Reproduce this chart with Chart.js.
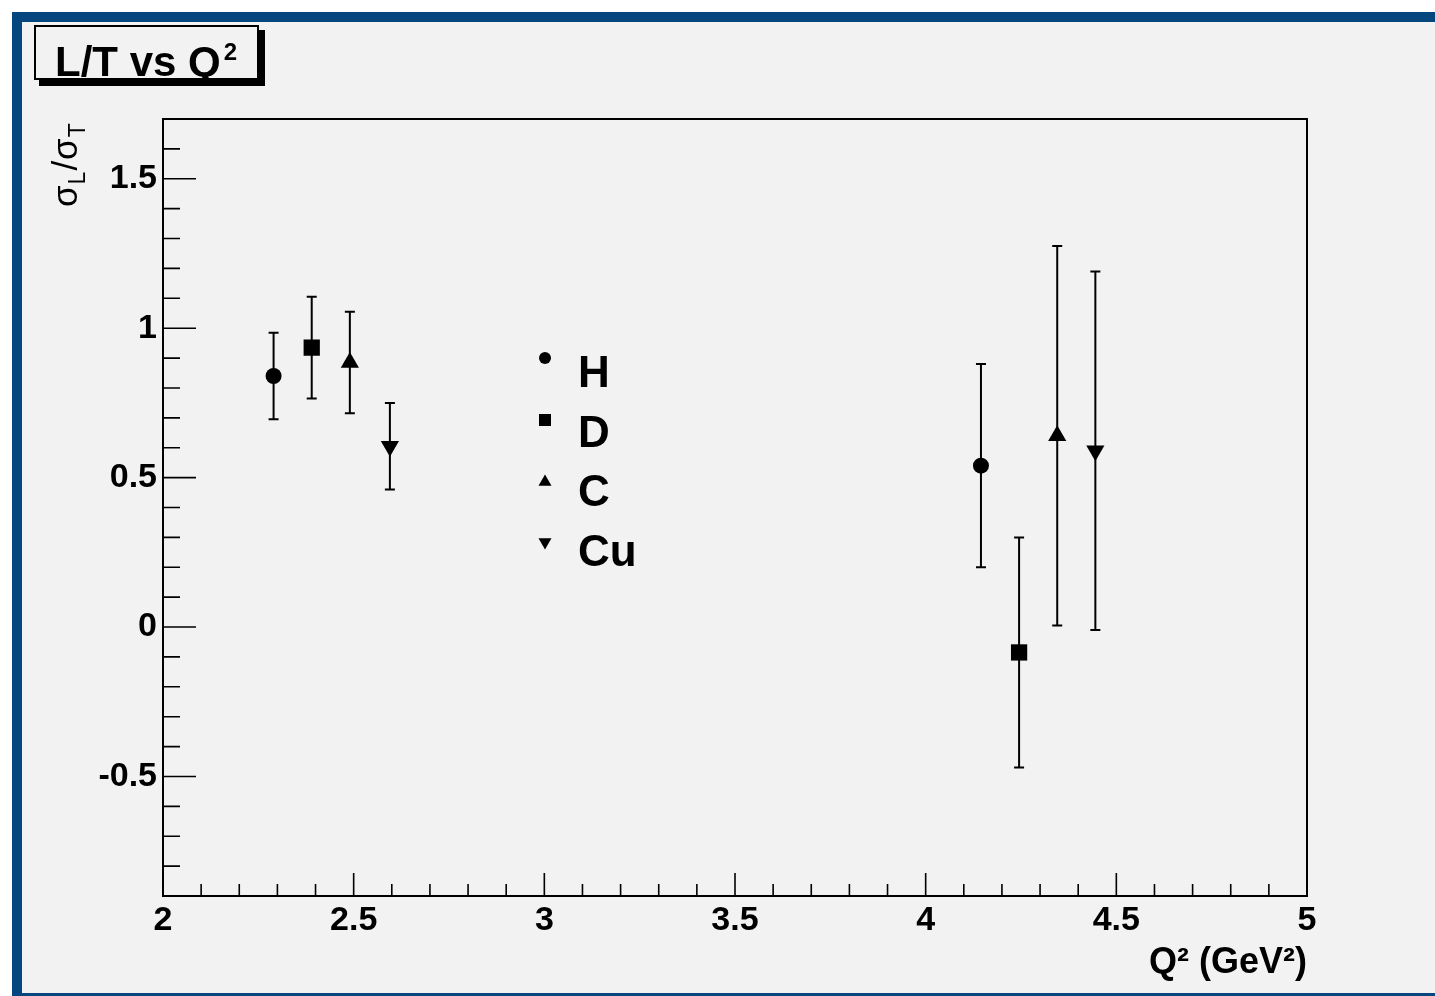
<!DOCTYPE html>
<html>
<head>
<meta charset="utf-8">
<script src="https://cdn.jsdelivr.net/npm/chart.js@4.4.0/dist/chart.umd.min.js"></script>
<style>
  html, body { margin: 0; padding: 0; background: #ffffff; overflow: hidden; }
  #frame { position: absolute; left: 12px; top: 12px; width: 1450px; height: 991px;
           box-sizing: border-box; background: #f2f2f2;
           border-left: 10px solid #05467e; border-top: 10px solid #05467e; border-bottom: 10px solid #05467e; }
  #c { position: absolute; left: 0; top: 0; }
</style>
</head>
<body>
<div id="frame"></div>
<canvas id="c" width="1435" height="996"></canvas>
<script>
// ---- data ----
const seriesNames = ['H', 'D', 'C', 'Cu'];
const q2_H  = [2.29, 4.145];
const q2_D  = [2.39, 4.245];
const q2_C  = [2.49, 4.345];
const q2_Cu = [2.595, 4.445];
const ratio_H  = [0.84, 0.54];
const ratio_D  = [0.935, -0.085];
const ratio_C  = [0.885, 0.64];
const ratio_Cu = [0.605, 0.59];
const err_H  = [0.145, 0.34];
const err_D  = [0.17, 0.385];
const err_C  = [0.17, 0.635];
const err_Cu = [0.145, 0.6];
const xTickLabels = ['2', '2.5', '3', '3.5', '4', '4.5', '5'];
const yTickLabels = ['-0.5', '0', '0.5', '1', '1.5'];
const chartTitle = 'L/T vs Q';
const xTitle = 'Q\u00B2 (GeV\u00B2)';

function pts(xs, ys, es) { return xs.map((x, i) => ({ x: x, y: ys[i], err: es[i] })); }

const FONT = "'Liberation Sans', Arial, sans-serif";

function fmt(v) { return String(Math.round(v * 10) / 10); }

const rootPlugin = {
  id: 'rootStyle',
  beforeDatasetsDraw(chart) {
    const ctx = chart.ctx;
    const xs = chart.scales.x, ys = chart.scales.y;
    ctx.save();
    ctx.strokeStyle = '#000';
    ctx.lineWidth = 2;
    chart.data.datasets.forEach(ds => {
      ds.data.forEach(p => {
        const px = xs.getPixelForValue(p.x);
        const yt = ys.getPixelForValue(p.y + p.err);
        const yb = ys.getPixelForValue(p.y - p.err);
        ctx.beginPath();
        ctx.moveTo(px, yt); ctx.lineTo(px, yb);
        ctx.moveTo(px - 5, yt); ctx.lineTo(px + 5, yt);
        ctx.moveTo(px - 5, yb); ctx.lineTo(px + 5, yb);
        ctx.stroke();
      });
    });
    ctx.restore();
  },
  afterDraw(chart) {
    const ctx = chart.ctx;
    const a = chart.chartArea;
    const xs = chart.scales.x, ys = chart.scales.y;
    ctx.save();
    // frame
    ctx.strokeStyle = '#000';
    ctx.lineWidth = 2;
    ctx.strokeRect(a.left, a.top, a.right - a.left, a.bottom - a.top);
    // y ticks (inward)
    ctx.beginPath();
    ys.ticks.forEach(t => {
      const major = yTickLabels.indexOf(fmt(t.value)) >= 0;
      const py = ys.getPixelForValue(t.value);
      ctx.moveTo(a.left, py); ctx.lineTo(a.left + (major ? 33 : 17), py);
    });
    // x ticks (inward)
    xs.ticks.forEach(t => {
      const major = xTickLabels.indexOf(fmt(t.value)) >= 0;
      const px = xs.getPixelForValue(t.value);
      ctx.moveTo(px, a.bottom); ctx.lineTo(px, a.bottom - (major ? 23 : 12));
    });
    ctx.lineWidth = 1.6;
    ctx.stroke();

    // title box with shadow
    ctx.fillStyle = '#000';
    ctx.fillRect(39, 30, 226, 56);
    ctx.fillStyle = '#f2f2f2';
    ctx.fillRect(34, 25, 225, 55);
    ctx.strokeStyle = '#000';
    ctx.lineWidth = 2;
    ctx.strokeRect(35, 26, 223, 53);
    ctx.fillStyle = '#000';
    ctx.textBaseline = 'alphabetic';
    ctx.textAlign = 'left';
    ctx.font = 'bold 42px ' + FONT;
    ctx.fillText(chartTitle, 55, 76);
    const tw = ctx.measureText(chartTitle).width;
    ctx.font = 'bold 24px ' + FONT;
    ctx.fillText('2', 55 + tw + 3, 60);

    // y axis title sigma_L / sigma_T
    ctx.save();
    ctx.translate(77, 207);
    ctx.rotate(-Math.PI / 2);
    let x = 0;
    const big = '35px ' + FONT, small = '23px ' + FONT;
    const parts = [['\u03C3', big, 0], ['L', small, 8], ['/', big, 0], ['\u03C3', big, 0], ['T', small, 8]];
    parts.forEach(p => {
      ctx.font = p[1];
      ctx.fillText(p[0], x, p[2]);
      x += ctx.measureText(p[0]).width + 1;
    });
    ctx.restore();

    // legend
    const lx = 545, lyMarker = [358, 420, 482, 542], lyText = [387, 447, 506, 566];
    chart.data.datasets.forEach((ds, i) => {
      ctx.fillStyle = '#000';
      ctx.strokeStyle = '#000';
      Chart.helpers.drawPoint(ctx, { pointStyle: ds.pointStyle, radius: ds.legendRadius, rotation: ds.rotation || 0, borderWidth: 0 }, lx, lyMarker[i]);
      ctx.font = 'bold 44px ' + FONT;
      ctx.textAlign = 'left';
      ctx.textBaseline = 'alphabetic';
      ctx.fillText(ds.label, 578, lyText[i]);
    });
    ctx.restore();
  }
};

const datasets = [
  { label: seriesNames[0], data: pts(q2_H, ratio_H, err_H), pointStyle: 'circle', pointRadius: 8, legendRadius: 6, rotation: 0 },
  { label: seriesNames[1], data: pts(q2_D, ratio_D, err_D), pointStyle: 'rect', pointRadius: 11.5, legendRadius: 8.5, rotation: 0 },
  { label: seriesNames[2], data: pts(q2_C, ratio_C, err_C), pointStyle: 'triangle', pointRadius: 10.5, legendRadius: 7.5, rotation: 0 },
  { label: seriesNames[3], data: pts(q2_Cu, ratio_Cu, err_Cu), pointStyle: 'triangle', pointRadius: 10.5, legendRadius: 7.5, rotation: 180 }
].map(d => Object.assign(d, {
  backgroundColor: '#000', borderColor: '#000', borderWidth: 0,
  pointBackgroundColor: '#000', pointBorderWidth: 0, pointRotation: d.rotation, showLine: false
}));

new Chart(document.getElementById('c'), {
  type: 'scatter',
  data: { datasets: datasets },
  options: {
    responsive: false,
    animation: false,
    devicePixelRatio: 1,
    layout: { padding: { left: 0, top: 119, right: 128, bottom: 0 } },
    plugins: { legend: { display: false }, title: { display: false }, tooltip: { enabled: false } },
    scales: {
      x: {
        type: 'linear', min: 2, max: 5,
        grid: { display: false, drawTicks: false, tickLength: 0 },
        border: { display: false },
        ticks: {
          stepSize: 0.1, autoSkip: false, maxRotation: 0, padding: 4, color: '#000',
          font: { family: FONT, weight: 'bold', size: 34 },
          callback: v => { const s = fmt(v); return xTickLabels.indexOf(s) >= 0 ? s : ''; }
        },
        title: { display: true, text: xTitle, align: 'end', color: '#000',
                 font: { family: FONT, weight: 'bold', size: 36 }, padding: { top: 0, bottom: 11 } },
        afterFit: s => { s.height = 100; }
      },
      y: {
        type: 'linear', min: -0.9, max: 1.7,
        grid: { display: false, drawTicks: false, tickLength: 0 },
        border: { display: false },
        ticks: {
          stepSize: 0.1, autoSkip: false, includeBounds: false, padding: 6, color: '#000',
          font: { family: FONT, weight: 'bold', size: 34 },
          callback: v => { const s = fmt(v); return yTickLabels.indexOf(s) >= 0 ? s : ''; }
        },
        afterFit: s => { s.width = 163; }
      }
    }
  },
  plugins: [rootPlugin]
});
</script>
</body>
</html>
